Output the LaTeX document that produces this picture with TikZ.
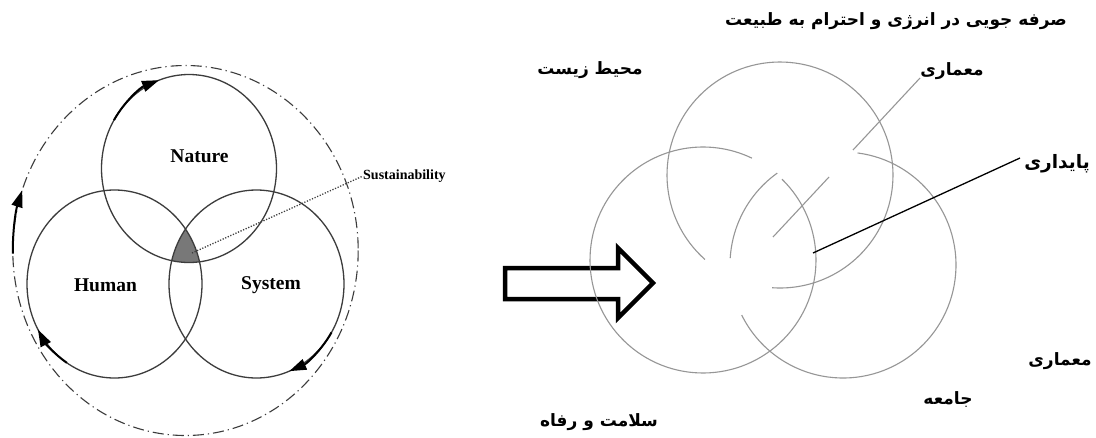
\documentclass[tikz,border=0pt]{standalone}
\usepackage{fontspec}
\setmainfont{Liberation Serif}
\newfontfamily\arabicfont[Script=Arabic]{DejaVu Sans}
\TeXXeTstate=1
\usepackage{tikz}
\usetikzlibrary{arrows.meta, positioning, calc}
\definecolor{ringGray}{RGB}{60,60,60}
\definecolor{sketchGray}{RGB}{150,150,150}
\definecolor{coreGray}{RGB}{120,120,120}
\tikzset{
  ring/.style={draw=ringGray,line width=1.3pt},
  outerring/.style={draw=ringGray,line width=1.1pt,dash pattern=on 11pt off 4pt on 1.2pt off 4pt},
  cyclearr/.style={draw=black,line width=2pt,-{Triangle[length=17pt,width=11pt]}},
  sketch/.style={draw=sketchGray,line width=1.1pt},
  enlbl/.style={inner sep=0pt,font=\fontsize{19.5}{22}\selectfont\bfseries},
  smalllbl/.style={inner sep=0pt,font=\fontsize{14}{16}\selectfont\bfseries},
  falbl/.style={inner sep=0pt,font=\arabicfont\fontsize{17}{20}\selectfont\bfseries},
  leader/.style={draw=black,line width=1.3pt},
  dotleader/.style={draw=ringGray,line width=1.3pt,dash pattern=on 1.2pt off 1.6pt},
  blockarr/.style={draw=black,line width=4.5pt,line join=miter,fill=white}
}

\begin{document}
\begin{tikzpicture}[x=1pt,y=-1pt]
  \fill[white] (0,0) rectangle (1096,437);
  \useasboundingbox (0,0) rectangle (1096,437);

  %% Left: three rings and the outer cycle
  \coordinate (natC) at (189,168.5);
  \coordinate (humC) at (114.5,284);
  \coordinate (sysC) at (256.5,284);
  \coordinate (outC) at (185.5,250.5);

  \begin{scope}
    \clip (natC) ellipse [x radius=87.5,y radius=94];
    \clip (humC) ellipse [x radius=87.5,y radius=94];
    \fill[coreGray] (sysC) ellipse [x radius=87.5,y radius=94];
  \end{scope}

  \draw[ring] (natC) ellipse [x radius=87.5,y radius=94];
  \draw[ring] (humC) ellipse [x radius=87.5,y radius=94];
  \draw[ring] (sysC) ellipse [x radius=87.5,y radius=94];
  \draw[outerring] (outC) ellipse [x radius=172.7,y radius=185];

  %% Cycle arrows
  \draw[cyclearr] ($(natC)+(211:87.5 and 94)$) arc[start angle=211,end angle=250,x radius=87.5,y radius=94];
  \draw[cyclearr] ($(humC)+(123:87.5 and 94)$) arc[start angle=123,end angle=151,x radius=87.5,y radius=94];
  \draw[cyclearr] ($(sysC)+(31:87.5 and 94)$) arc[start angle=31,end angle=68,x radius=87.5,y radius=94];
  \draw[cyclearr] ($(outC)+(179:172.7 and 185)$) arc[start angle=179,end angle=199,x radius=172.7,y radius=185];

  \node[enlbl] (nature) at (199.5,156) {Nature};
  \node[enlbl] (human) at (105.5,285) {Human};
  \node[enlbl] (system) at (271,285) {System};
  \node[smalllbl,anchor=west] (sustain) at (363,176) {Sustainability};
  \coordinate (core) at (192,253);
  \draw[dotleader] (core) -- (sustain.west);

  %% Block arrow
  \draw[blockarr] (505,268) -- (618,268) -- (618,248) -- (653,283)
    -- (618,318) -- (618,299) -- (505,299) -- cycle;

  %% Right: sketched rings with gaps
  \coordinate (topC) at (780,175);
  \coordinate (leftC) at (703,260);
  \coordinate (rightC) at (843,265);
  \draw[sketch] ($(topC)+(131.6:113)$) arc[start angle=131.6,end angle=454,radius=113];
  \draw[sketch] ($(leftC)+(-45.7:113)$) arc[start angle=-45.7,end angle=295.7,radius=113];
  \draw[sketch] ($(rightC)+(-82.6:113)$) arc[start angle=-82.6,end angle=153.7,radius=113];
  \draw[sketch] ($(rightC)+(183.5:113)$) arc[start angle=183.5,end angle=234.4,radius=113];

  %% Persian labels
  \node[falbl] (title) at (896,21) {\beginR صرفه جویی در انرژی و احترام به طبیعت\endR};
  \node[falbl] (envir) at (590,70) {\beginR محیط زیست\endR};
  \node[falbl] (archTop) at (952,71) {\beginR معماری\endR};
  \node[falbl,font=\arabicfont\fontsize{18.5}{21}\selectfont\bfseries] (paydari) at (1057,164) {\beginR پایداری\endR};
  \node[falbl] (archLow) at (1060,361) {\beginR معماری\endR};
  \node[falbl] (society) at (948,400) {\beginR جامعه\endR};
  \node[falbl] (health) at (599,422) {\beginR سلامت و رفاه\endR};

  %% Leaders
  \coordinate (archTip) at (920,78);
  \coordinate (gapA) at (853,150);
  \coordinate (gapB) at (829,177);
  \coordinate (archEnd) at (773,237);
  \draw[sketch] (archTip) -- (gapA);
  \draw[sketch] (gapB) -- (archEnd);
  \coordinate (payEnd) at (813,253);
  \coordinate (payTip) at (1020,158);
  \draw[leader] (payEnd) -- (payTip);
\end{tikzpicture}
\end{document}
